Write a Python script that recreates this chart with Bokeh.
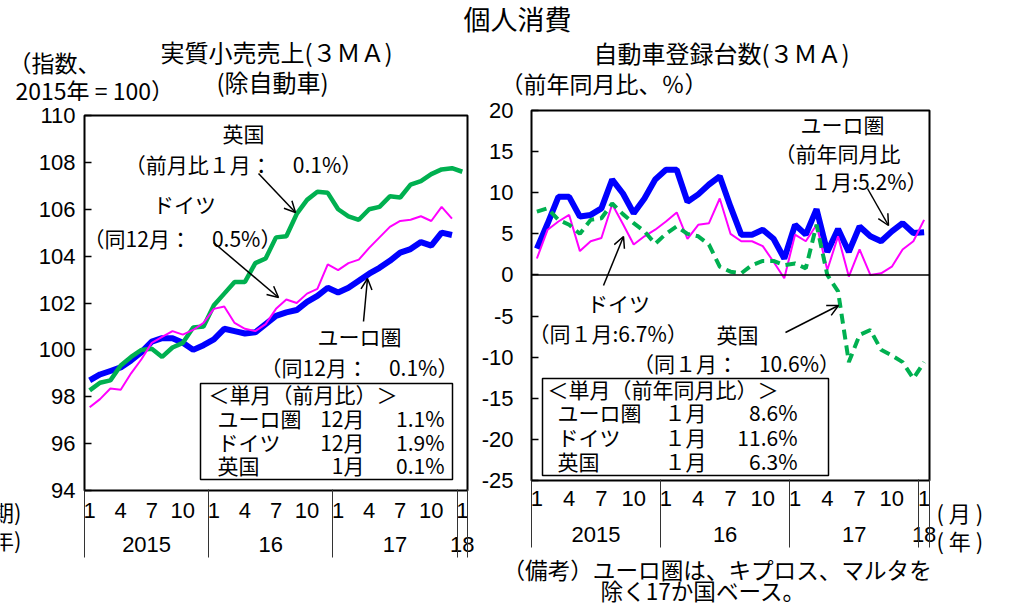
from bokeh.plotting import figure
from bokeh.models import (Label, Span, Arrow, OpenHead, BoxAnnotation, FixedTicker,
                          LinearAxis, Range1d, ColumnDataSource)
from bokeh.layouts import row, column
from bokeh.embed import file_html
from bokeh.resources import INLINE

JP = "Noto Sans CJK JP"
NUM = "Liberation Sans"

# ---------------- data ----------------
month_index = list(range(37))          # Jan 2015 .. Jan 2018
month_ticks = [0, 3, 6, 9, 12, 15, 18, 21, 24, 27, 30, 33, 36]
month_labels = ["1", "4", "7", "10", "1", "4", "7", "10", "1", "4", "7", "10", "1"]
year_ticks = [5.5, 17.5, 29.5, 36]
year_labels = ["2015", "16", "17", "18"]
year_bounds = [-0.5, 11.5, 23.5, 35.5, 36.5]

retail_yticks = [94, 96, 98, 100, 102, 104, 106, 108, 110]
car_yticks = [-25, -20, -15, -10, -5, 0, 5, 10, 15, 20]
car_ytick_labels = ["-25", "-20", "-15", "-10", "-5", "0", "5", "10", "15", "20"]

# real retail sales ex autos, 3MA, index 2015=100
retail_euro = [98.7, 98.95, 99.1, 99.25, 99.55, 99.9, 100.35, 100.5, 100.5, 100.3, 100.0, 100.2,
               100.45, 100.9, 100.8, 100.7, 100.75, 101.1, 101.45, 101.6, 101.7, 102.05, 102.3, 102.65,
               102.45, 102.65, 102.95, 103.25, 103.5, 103.8, 104.15, 104.3, 104.6, 104.45, 105.0, 104.9]
retail_de = [97.55, 97.9, 98.35, 98.3, 99.0, 99.6, 100.3, 100.55, 100.8, 100.65, 100.85, 101.15,
             101.75, 101.85, 101.15, 100.9, 100.8, 101.1, 101.75, 102.15, 102.0, 102.4, 102.6, 103.65,
             103.4, 103.7, 103.85, 104.35, 104.8, 105.25, 105.5, 105.55, 105.7, 105.5, 106.1, 105.6]
retail_uk = [98.27, 98.6, 98.7, 99.33, 99.7, 100.0, 100.05, 99.7, 100.1, 100.3, 100.95, 101.0,
             101.9, 102.4, 102.9, 102.9, 103.7, 103.9, 104.8, 104.85, 105.8, 106.4, 106.75, 106.7,
             106.0, 105.7, 105.55, 106.0, 106.1, 106.55, 106.5, 107.05, 107.2, 107.5, 107.7, 107.75, 107.6]

# car registrations, 3MA, % yoy
car_euro = [3.2, 6.25, 9.5, 9.5, 7.1, 7.3, 8.1, 11.6, 9.9, 7.5, 9.3, 11.6,
            12.8, 12.8, 8.9, 9.8, 11.0, 12.0, 8.3, 4.9, 4.9, 5.5, 4.4, 2.0,
            6.1, 4.9, 8.0, 2.8, 5.6, 2.8, 5.9, 4.7, 4.1, 5.3, 6.3, 5.1, 5.2]
car_de = [2.0, 5.5, 6.5, 7.3, 2.9, 4.1, 4.5, 8.6, 6.2, 3.7, 4.7, 5.5,
          6.5, 7.6, 4.4, 6.1, 6.3, 9.3, 5.0, 4.1, 4.1, 3.5, 1.6, -0.4,
          4.9, 4.1, 6.1, 0.6, 4.7, -0.2, 3.1, 0.0, 0.2, 1.0, 3.1, 4.1, 6.7]
car_uk = [7.7, 8.1, 6.7, 6.1, 5.0, 6.7, 6.9, 8.7, 7.4, 6.3, 5.3, 3.8,
          5.0, 5.9, 5.0, 4.7, 3.7, 1.0, 0.4, 0.2, 1.2, 1.7, 1.7, 1.2,
          1.4, 0.8, 6.1, 0.0, -2.0, -10.6, -7.3, -6.7, -9.1, -9.8, -10.6, -12.6, -10.6]

BLUE = "#0000FF"
GREEN = "#00B050"
MAGENTA = "#FF00FF"

# ---------------- layout geometry (page px, origin top-left) ----------------
PAGE_W, PAGE_H = 1000, 603
HEAD_H = 101
ROW_Y1 = 558                    # bottom of the chart row, note strip below
STRIP_W = 22
L_X0, L_X1 = STRIP_W, 474
R_X0, R_X1 = 474, 936
L_FRAME = (84, 467, 115, 490)   # left, right, top, bottom
R_FRAME = (531, 929, 110, 480)
LBL = "22px"


def blank_fig(width, height):
    p = figure(width=width, height=height, output_backend="svg", toolbar_location=None,
               x_range=Range1d(0, 1), y_range=Range1d(0, 1),
               x_axis_location=None, y_axis_location=None, min_border=0)
    p.grid.visible = False
    p.outline_line_color = None
    p.background_fill_color = "white"
    p.border_fill_color = "white"
    return p


def plain_axis(ticks, labels, standoff):
    ax = LinearAxis(ticker=FixedTicker(ticks=ticks, minor_ticks=[]),
                    major_label_overrides=dict(zip(ticks, labels)))
    ax.major_tick_in = 0
    ax.major_tick_out = 0
    ax.minor_tick_in = 0
    ax.minor_tick_out = 0
    ax.axis_line_color = None
    ax.major_label_text_font = NUM
    ax.major_label_text_font_size = LBL
    ax.major_label_text_color = "black"
    ax.major_label_standoff = standoff
    return ax


def make_fig(x0, x1, y0, y1, frame, yrange, yticks, ylabels, ystandoff, mstand, ystand, sep_out):
    fl, fr, ft, fb = frame
    p = figure(width=x1 - x0, height=y1 - y0, output_backend="svg", toolbar_location=None,
               x_range=Range1d(-0.5, 36.5), y_range=Range1d(*yrange),
               x_axis_location=None, y_axis_location="left",
               min_border_left=fl - x0, min_border_right=x1 - fr,
               min_border_top=ft - y0, min_border_bottom=y1 - fb)
    p.grid.visible = False
    p.outline_line_color = "black"
    p.outline_line_width = 2
    p.background_fill_color = "white"
    p.border_fill_color = "white"
    yax = p.yaxis[0]
    yax.ticker = FixedTicker(ticks=yticks)
    yax.major_label_overrides = dict(zip(yticks, ylabels))
    yax.major_tick_in = 7
    yax.major_tick_out = 0
    yax.minor_tick_in = 0
    yax.minor_tick_out = 0
    yax.axis_line_color = None
    yax.major_tick_line_width = 1.5
    yax.major_tick_line_color = "black"
    yax.major_label_text_font = NUM
    yax.major_label_text_font_size = LBL
    yax.major_label_text_color = "black"
    yax.major_label_standoff = ystandoff

    p.add_layout(plain_axis(month_ticks, month_labels, mstand), "below")
    p.add_layout(plain_axis(year_ticks, year_labels, ystand), "below")
    # year separators: minor ticks pointing back up towards the frame
    sep = LinearAxis(ticker=FixedTicker(ticks=[], minor_ticks=year_bounds))
    sep.major_tick_in = 0
    sep.major_tick_out = 0
    sep.minor_tick_out = sep_out
    sep.minor_tick_in = 65
    sep.minor_tick_line_color = "#333333"
    sep.minor_tick_line_width = 1
    sep.axis_line_color = None
    sep.major_label_text_font_size = "0px"
    sep.major_label_standoff = 0
    p.add_layout(sep, "below")
    return p


def adder(p, fl, fb):
    """helpers placing annotations by page position; fl/fb = page x/y of frame left/bottom"""
    def lab(text, x, y, size=22, align="left", font=JP, lh=1.2):
        p.add_layout(Label(x=x - fl, y=fb - y, x_units="screen", y_units="screen",
                           text=text, text_align=align, text_baseline="middle",
                           text_line_height=lh,
                           text_font=font, text_font_size=f"{size}px", text_color="black"))

    def arrow(x0, y0, x1, y1):
        p.add_layout(Arrow(x_start=x0 - fl, y_start=fb - y0, x_end=x1 - fl, y_end=fb - y1,
                           start_units="screen", end_units="screen",
                           line_color="black", line_width=1.5,
                           end=OpenHead(size=11, line_color="black", line_width=1.5)))

    def box(x0, y0, x1, y1):
        p.add_layout(BoxAnnotation(left=x0 - fl, right=x1 - fl, top=fb - y0, bottom=fb - y1,
                                   left_units="screen", right_units="screen",
                                   top_units="screen", bottom_units="screen",
                                   fill_color="white", fill_alpha=1.0,
                                   line_color="black", line_alpha=1.0, line_width=1.5))
    return lab, arrow, box


# ---------------- header (title, subtitles, units) ----------------
head = blank_fig(PAGE_W, HEAD_H)
lab, _, _ = adder(head, 0, HEAD_H)
lab("個人消費", 517, 18, size=27, align="center")
lab("実質小売売上(３ＭＡ)", 276, 51, size=24, align="center")
lab("(除自動車)", 272, 81, size=24, align="center")
lab("（指数、", 8, 61, size=23)
lab("2015年 = 100）", 15, 89, size=23, lh=1.0)
lab("自動車登録台数(３ＭＡ)", 721, 52, size=24, align="center")
lab("（前年同月比、％）", 500, 82, size=23)

# ---------------- left strip (cut-off period labels) ----------------
strip = blank_fig(STRIP_W, ROW_Y1 - HEAD_H)
lab, _, _ = adder(strip, 0, ROW_Y1)
lab("（期)", 21, 510, size=22, align="right")
lab("（年)", 21, 538, size=22, align="right")

# ---------------- right strip (unit labels) ----------------
rstrip = blank_fig(PAGE_W - R_X1, ROW_Y1 - HEAD_H)
lab, _, _ = adder(rstrip, R_X1, ROW_Y1)
lab("( 月 )", R_X1, 511, size=22)
lab("( 年 )", R_X1, 539, size=22)

# ---------------- left: retail sales ----------------
pl = make_fig(L_X0, L_X1, HEAD_H, ROW_Y1, L_FRAME, (94, 110), retail_yticks,
              [str(v) for v in retail_yticks], 9, 12, 16, 3)
src_l = ColumnDataSource(dict(x=month_index[:36], euro=retail_euro, de=retail_de))
src_luk = ColumnDataSource(dict(x=month_index, uk=retail_uk))
pl.line("x", "euro", source=src_l, line_color=BLUE, line_width=6)
pl.line("x", "uk", source=src_luk, line_color=GREEN, line_width=4.5)
pl.line("x", "de", source=src_l, line_color=MAGENTA, line_width=2)

lab, arrow, box = adder(pl, L_FRAME[0], L_FRAME[3])
lab("英国", 243, 132, size=21, align="center")
lab("（前月比１月：　0.1%）", 243, 163, size=21, align="center")
lab("ドイツ", 184, 203, size=21, align="center")
lab("（同12月：　0.5%）", 182, 237, size=21, align="center")
lab("ユーロ圏", 359, 335, size=21, align="center")
lab("（同12月：　0.1%）", 359, 366, size=21, align="center")
arrow(258, 173, 295, 212)
arrow(213, 242, 278, 297)
arrow(363, 321, 367, 278)

box(200, 383, 452, 479)
lab("＜単月（前月比）＞", 208, 393, size=21)
for yy, name, mon, val in [(417, "ユーロ圏", "12月", "1.1%"), (441, "ドイツ", "12月", "1.9%"),
                           (464, "英国", "1月", "0.1%")]:
    lab(name, 217, yy, size=21)
    lab(mon, 364, yy, size=21, align="right")
    lab(val, 444, yy, size=21, align="right")

# ---------------- right: car registrations ----------------
pr = make_fig(R_X0, R_X1, HEAD_H, ROW_Y1, R_FRAME, (-25, 20), car_yticks, car_ytick_labels,
              18, 10, 18, 3)
src_r = ColumnDataSource(dict(x=month_index, euro=car_euro, de=car_de, uk=car_uk))
pr.add_layout(Span(location=0, dimension="width", line_color="black", line_width=1.5))
pr.line("x", "euro", source=src_r, line_color=BLUE, line_width=6)
pr.line("x", "de", source=src_r, line_color=MAGENTA, line_width=2)
pr.line("x", "uk", source=src_r, line_color=GREEN, line_width=4, line_dash="10 6")

lab, arrow, box = adder(pr, R_FRAME[0], R_FRAME[3])
lab("ユーロ圏", 842, 123, size=21, align="center")
lab("（前年同月比", 774, 152, size=21)
lab("１月:5.2%）", 927, 180, size=21, align="right")
arrow(867, 188, 888, 225)
lab("ドイツ", 618, 302, size=21, align="center")
lab("（同１月:6.7%）", 528, 332, size=21)
lab("英国", 737, 333, size=21, align="center")
lab("（同１月：　10.6%）", 736, 362, size=21, align="center")
arrow(785, 332, 838, 305)
arrow(603, 285, 623, 236)

box(542, 378, 828, 475)
lab("＜単月（前年同月比）＞", 547, 388, size=21)
for yy, name, mon, val in [(411, "ユーロ圏", "１月", "8.6%"), (436, "ドイツ", "１月", "11.6%"),
                           (460, "英国", "１月", "6.3%")]:
    lab(name, 557, yy, size=21)
    lab(mon, 706, yy, size=21, align="right")
    lab(val, 797, yy, size=21, align="right")

# ---------------- note strip under the charts ----------------
note = blank_fig(PAGE_W, PAGE_H - ROW_Y1)
lab, _, _ = adder(note, 0, PAGE_H)
lab("（備考）ユーロ圏は、キプロス、マルタを", 502, 569, size=22.6, lh=1.0)
lab("除く17か国ベース。", 600, 590, size=22.6, lh=1.0)

layout = column(
    head,
    row(column(strip), column(pl), column(pr), column(rstrip), spacing=0),
    note,
    spacing=0,
)
open("out.html", "w").write(file_html(layout, INLINE))
